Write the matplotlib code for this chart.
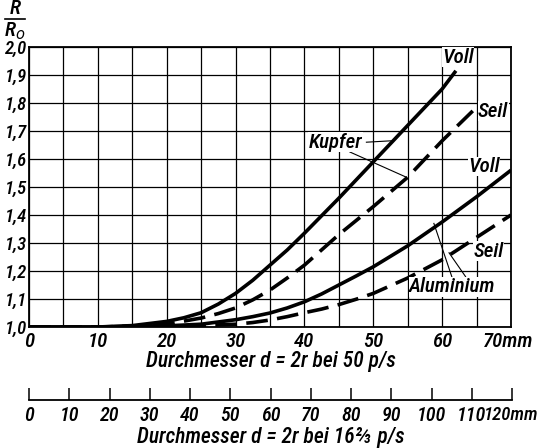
import matplotlib
matplotlib.use("Agg")
import matplotlib.pyplot as plt
from matplotlib import font_manager
from matplotlib.lines import Line2D

kupfer_voll_d = [0, 10, 15, 20, 22.5, 25, 27.5, 30, 32.5, 35, 37.5, 40, 45, 50, 55, 60, 62]
kupfer_voll = [1.0, 1.0, 1.005, 1.02, 1.033, 1.051, 1.082, 1.12, 1.167, 1.221, 1.275, 1.335,
               1.46, 1.59, 1.72, 1.85, 1.915]

kupfer_seil_d = [0, 10, 15, 20, 25, 27.5, 30, 32.5, 35, 37.5, 40, 45, 50, 55, 60, 65]
kupfer_seil = [1.0, 1.0, 1.003, 1.01, 1.032, 1.048, 1.068, 1.097, 1.132, 1.175, 1.221, 1.33,
               1.43, 1.535, 1.665, 1.785]

alu_voll_d = [0, 10, 20, 25, 30, 32.5, 35, 37.5, 40, 42.5, 45, 47.5, 50, 55, 60, 65, 70]
alu_voll = [1.0, 1.0, 1.004, 1.01, 1.026, 1.037, 1.05, 1.068, 1.09, 1.118, 1.15, 1.182, 1.215,
            1.29, 1.375, 1.465, 1.56]

alu_seil_d = [0, 10, 20, 25, 30, 32.5, 35, 37.5, 40, 42.5, 45, 47.5, 50, 55, 60, 65, 70]
alu_seil = [1.0, 1.0, 1.002, 1.005, 1.01, 1.016, 1.025, 1.037, 1.051, 1.064, 1.08, 1.099, 1.12,
            1.175, 1.24, 1.32, 1.40]

y_ticks = [1.0, 1.1, 1.2, 1.3, 1.4, 1.5, 1.6, 1.7, 1.8, 1.9, 2.0]
x_grid = list(range(0, 71, 5))
x2_ticks = [0, 10, 20, 30, 40, 50, 60, 70, 80, 90, 100, 110, 120]

# a narrow font if there is one
names = {f.name for f in font_manager.fontManager.ttflist}
narrow = None
for cand in ['Liberation Sans Narrow', 'DejaVu Sans Condensed', 'Roboto Condensed', 'Open Sans Condensed']:
    if cand in names:
        narrow = cand
        break
if narrow:
    FONT = dict(family=[narrow, 'DejaVu Sans'], style='italic', weight='medium')
    fs = 15
else:
    FONT = dict(family=['DejaVu Sans'], style='italic', stretch='condensed')
    fs = 12

W, H = 538, 448
fig = plt.figure(figsize=(W / 100, H / 100), dpi=100)
ax = fig.add_axes([29 / W, 1 - 327 / H, (511 - 29) / W, (327 - 47) / H])

ax.set_xlim(0, 70)
ax.set_ylim(1.0, 2.0)
ax.set_xticks(x_grid)
ax.set_yticks(y_ticks)
ax.grid(True, color='black', lw=0.9)
ax.tick_params(length=0)
ax.tick_params(axis='y', pad=1.5)
ax.tick_params(axis='x', pad=3.5)
ax.set_xticklabels([(f"{v}" if v % 10 == 0 and v < 70 else "") for v in x_grid],
                   fontsize=fs, **FONT)
ax.annotate("70mm", xy=(69.6, 0), xycoords=('data', 'axes fraction'), xytext=(0, -3.5),
            textcoords='offset points', fontsize=fs, ha='center', va='top', **FONT)
ax.set_yticklabels([f"{v:.1f}".replace('.', ',') for v in y_ticks], fontsize=fs - 1.5, **FONT)
for s in ax.spines.values():
    s.set_linewidth(1.3)

dash = (0, (6, 2.6))
lw = 2.6
ax.plot(kupfer_voll_d, kupfer_voll, color='black', lw=lw, solid_capstyle='butt')
ax.plot(kupfer_seil_d, kupfer_seil, color='black', lw=lw, linestyle=dash)
ax.plot(alu_voll_d, alu_voll, color='black', lw=lw, solid_capstyle='butt')
ax.plot(alu_seil_d, alu_seil, color='black', lw=lw, linestyle=dash)

box = dict(facecolor='white', edgecolor='none', pad=0.3)
ax.text(62.3, 1.964, "Voll", fontsize=fs, ha='center', va='center', bbox=box, **FONT)
ax.text(67.4, 1.77, "Seil", fontsize=fs, ha='center', va='center', bbox=box, **FONT)
ax.text(44.5, 1.66, "Kupfer", fontsize=fs, ha='center', va='center', bbox=box, **FONT)
ax.text(66.1, 1.573, "Voll", fontsize=fs, ha='center', va='center', bbox=box, **FONT)
ax.text(66.8, 1.27, "Seil", fontsize=fs, ha='center', va='center', bbox=box, **FONT)
ax.text(61.5, 1.143, "Aluminium", fontsize=fs, ha='center', va='center', bbox=box, **FONT)

# leader lines
ax.plot([49.0, 52.6], [1.66, 1.665], color='black', lw=0.8)
ax.plot([46.6, 54.8], [1.625, 1.535], color='black', lw=0.8)
ax.plot([61.4, 58.8], [1.18, 1.37], color='black', lw=0.8)
ax.plot([63.4, 61.0], [1.18, 1.265], color='black', lw=0.8)

fig.text(271 / W, 1 - 361 / H, "Durchmesser d = 2r bei 50 p/s", fontsize=fs + 0.5,
         ha='center', va='center', **FONT)

# second scale for 16 2/3 p/s
ax2 = fig.add_axes([29 / W, 1 - 400 / H, (512 - 29) / W, 0.001])
ax2.set_xlim(0, 120)
ax2.set_yticks([])
for k in ['top', 'left', 'right']:
    ax2.spines[k].set_visible(False)
ax2.spines['bottom'].set_linewidth(1.3)
ax2.set_xticks(x2_ticks)
ax2.tick_params(axis='x', direction='in', length=9, width=1.1, pad=4)
ax2.set_xticklabels([("" if v == 120 else str(v)) for v in x2_ticks], fontsize=fs - 0.5, **FONT)
ax2.annotate("120mm", xy=(120, 0), xycoords=('data', 'axes fraction'), xytext=(19, -4),
             textcoords='offset points', fontsize=fs - 1.5, ha='right', va='top', **FONT)
fig.text(271 / W, 1 - 437 / H, "Durchmesser d = 2r bei 16\u2154 p/s", fontsize=fs + 0.5,
         ha='center', va='center', **FONT)

# R / R_o ordinate label
fig.text(15 / W, 1 - 9 / H, "R", fontsize=fs, ha='center', va='center', **FONT)
fig.add_artist(Line2D([5 / W, 25 / W], [1 - 19 / H, 1 - 19 / H], color='black', lw=1.2))
fig.text(15 / W, 1 - 31 / H, "R$_o$", fontsize=fs, ha='center', va='center', **FONT)

fig.savefig("out.png", dpi=100)
